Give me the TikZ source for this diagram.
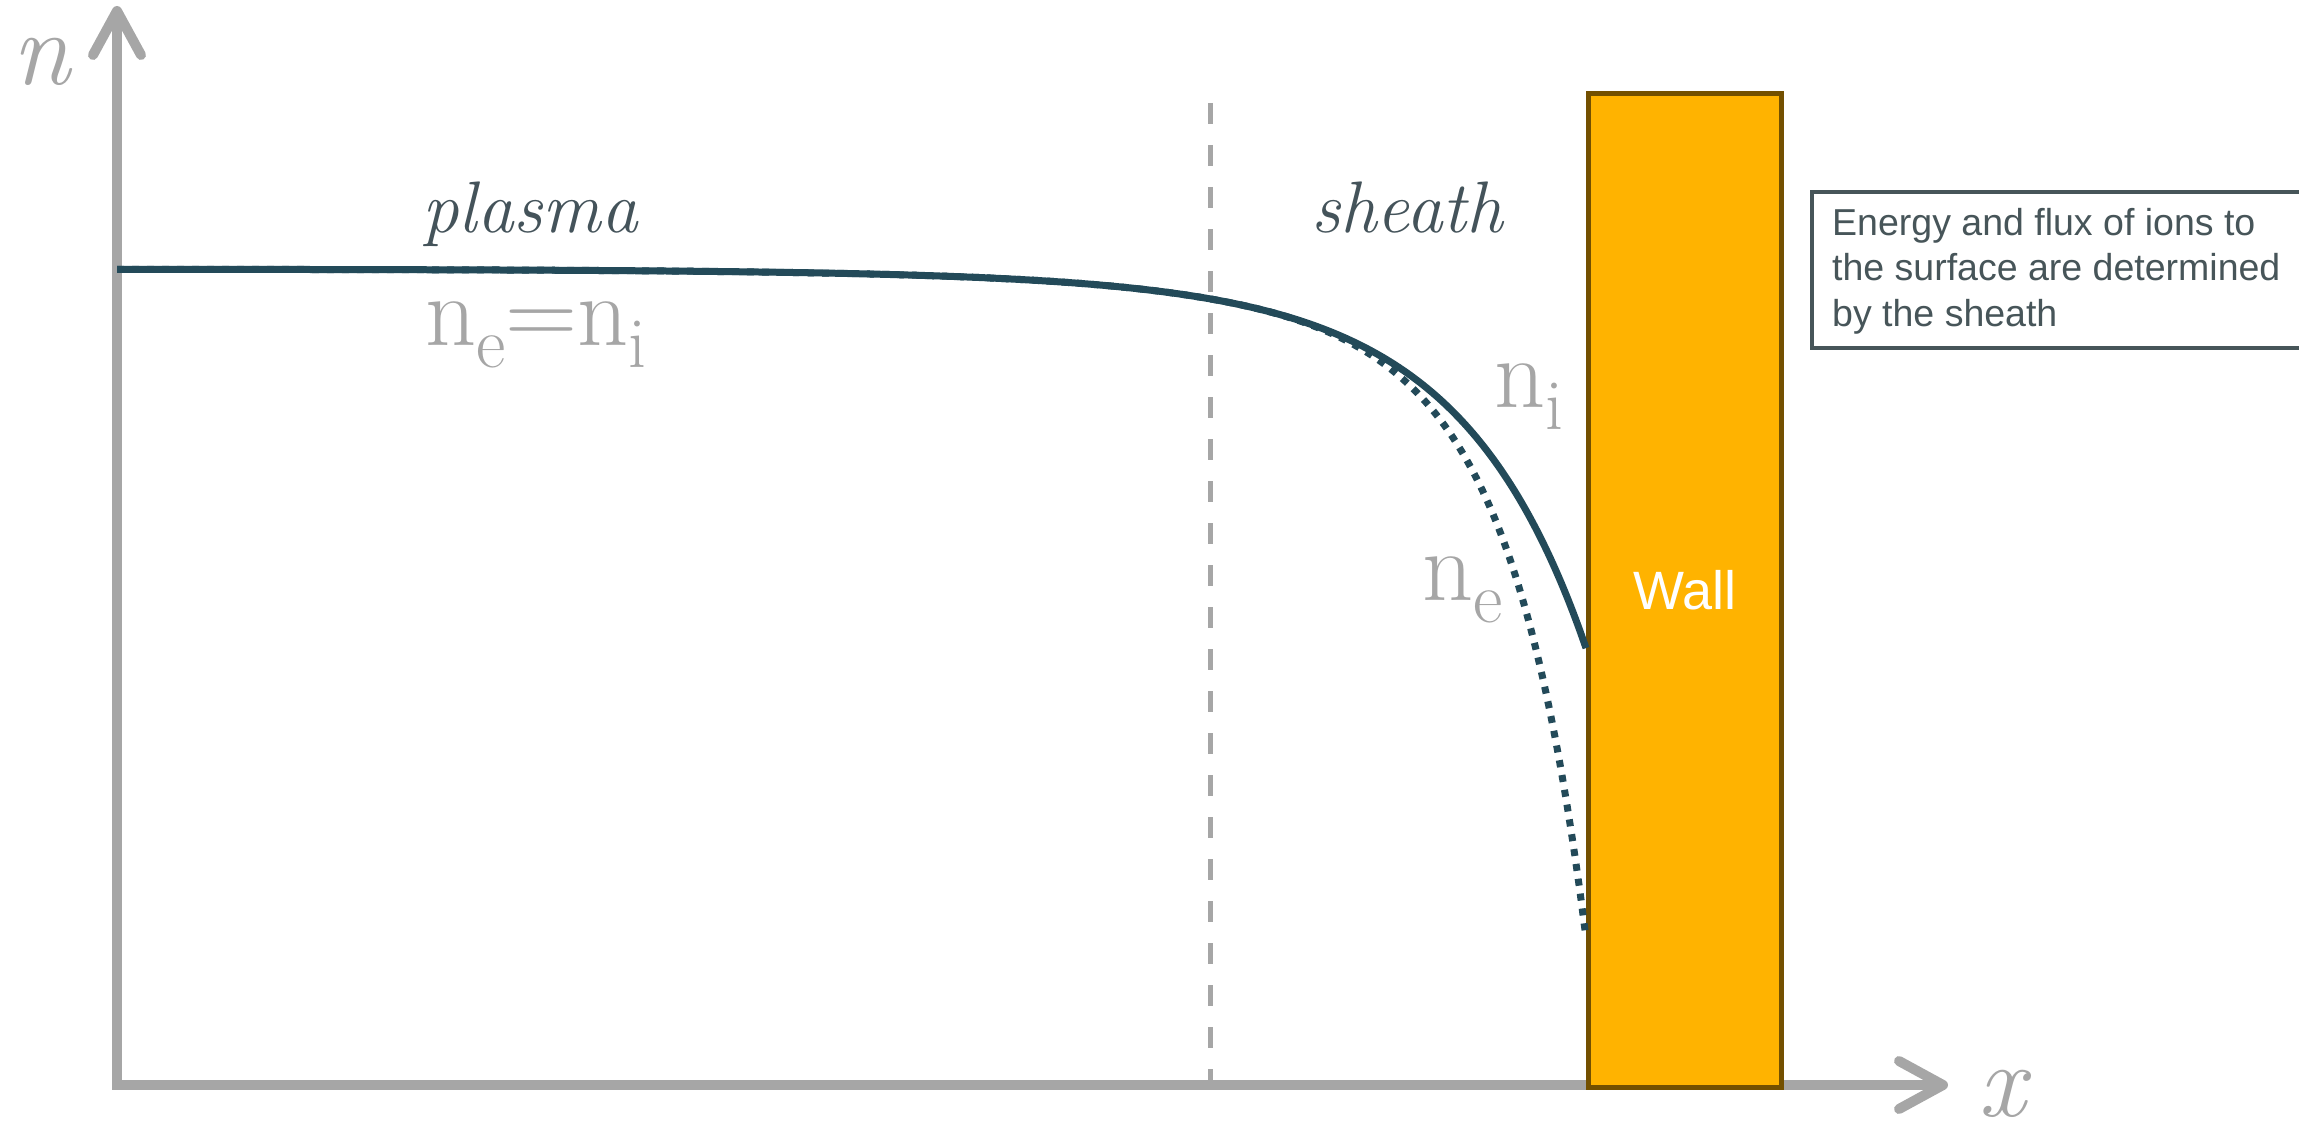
\documentclass[tikz,border=0pt]{standalone}
\usepackage{fontspec}
\newfontfamily\sansf{Liberation Sans}
\usetikzlibrary{arrows.meta}
\definecolor{axisgray}{HTML}{A6A6A6}
\definecolor{labgray}{HTML}{A6A6A6}
\definecolor{slate}{HTML}{44535A}
\definecolor{curvecol}{HTML}{234A59}
\definecolor{wallfill}{HTML}{FFB300}
\definecolor{wallborder}{HTML}{735000}
\definecolor{boxcol}{HTML}{475559}
\newcommand\lsub[1]{\raisebox{-22pt}{\fontsize{72}{72}\selectfont #1}}
\tikzset{axbarb/.tip={Straight Barb[length=44pt,width=48pt,line width=10pt,round]}}
\begin{document}
\begin{tikzpicture}[x=1pt,y=-1pt,
  declare function={
    ud(\t)=(\t-1433)/100;
    vd(\t)=max(0,(\t-1250)/100);
    lion(\t)=4.83+0.686*ud(\t)+0.026*ud(\t)*ud(\t);
    dion(\t)=exp(lion(\t));
    dele(\t)=exp(lion(\t)+0.025*vd(\t)*vd(\t)+0.0075*vd(\t)*vd(\t)*vd(\t));
  },
  axis/.style={line width=10pt, draw=axisgray, line join=miter},
  divider/.style={draw=axisgray, line width=5pt, dash pattern=on 21pt off 21pt},
  icurve/.style={draw=curvecol, line width=7pt},
  ecurve/.style={draw=curvecol, line width=7pt, dash pattern=on 7pt off 8pt},
  wallbox/.style={draw=wallborder, fill=wallfill, line width=5pt, text=white,
    font=\sansf\fontsize{54}{54}\selectfont, inner sep=0pt},
  infobox/.style={draw=boxcol, line width=4pt, fill=white, inner sep=0pt},
  infotext/.style={text=boxcol, inner sep=0pt, align=left,
    font=\sansf\fontsize{37.5}{45.5}\selectfont},
  region/.style={text=slate, inner sep=0pt, font=\itshape\fontsize{73}{73}\selectfont},
  lab/.style={text=labgray, inner sep=0pt, font=\fontsize{100}{100}\selectfont},
  axlab/.style={text=labgray, inner sep=0pt, font=\itshape\fontsize{105}{105}\selectfont}
]
\path[use as bounding box] (0,0) rectangle (2299,1126);
\clip (0,0) rectangle (2299,1126);

% coordinates
\coordinate (O) at (117,1085);
\coordinate (Ytip) at (117,6);
\coordinate (Xtip) at (1948,1085);
\coordinate (Dtop) at (1210,103);
\coordinate (Dbot) at (1210,1085);

% sheath edge
\draw[divider] (Dtop) -- (Dbot);

% axes
\draw[axis, axbarb-axbarb] (Ytip) -- (O) -- (Xtip);

% wall
\node[wallbox, minimum width=193pt, minimum height=994pt, anchor=north west] (wall) at (1586,91) {Wall};

% density curves
\draw[ecurve] plot[domain=117:1586, samples=240, smooth] (\x, {268+dele(\x)});
\draw[icurve] plot[domain=117:1586, samples=240, smooth] (\x, {268+dion(\x)});

% labels
\node[region, anchor=base] (plasma) at (530,233) {plasma};
\node[region, anchor=base] (sheath) at (1407,233) {sheath};
\node[lab, anchor=base west] (neqni) at (425,345) {n\lsub{e}=n\lsub{i}};
\node[lab, anchor=base west] (ni) at (1494,407) {n\lsub{i}};
\node[lab, anchor=base west] (ne) at (1422,600) {n\lsub{e}};
\node[axlab, anchor=base west] (nlab) at (12,85) {n};
\node[axlab, anchor=base west] (xlab) at (1978,1116) {x};

% info box
\node[infobox, minimum width=530pt, minimum height=156pt, anchor=north west] (info) at (1810,190) {};
\node[infotext, anchor=north west] (infotxt) at (1832,208) {Energy and flux of ions to\\the surface are determined\\by the sheath};
\end{tikzpicture}
\end{document}
